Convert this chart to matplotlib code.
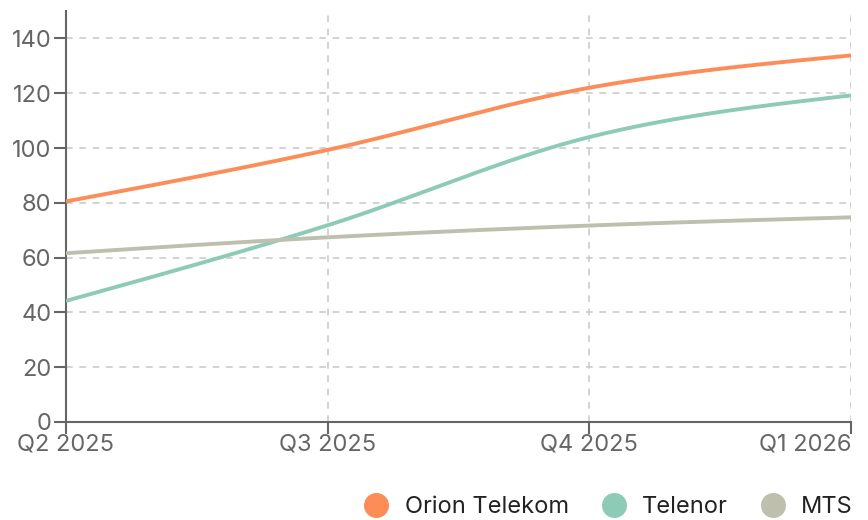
import numpy as np
import matplotlib
matplotlib.use("Agg")
import matplotlib.pyplot as plt
from matplotlib.lines import Line2D

plt.rcParams['font.family'] = ['Inter', 'DejaVu Sans']

quarters = ["Q2 2025", "Q3 2025", "Q4 2025", "Q1 2026"]
series_names = ["Orion Telekom", "Telenor", "MTS"]
orion = [80.5, 99.3, 122.0, 133.8]
telenor = [44.2, 71.8, 104.0, 119.2]
mts = [61.6, 67.4, 71.7, 74.7]
colors = ["#fc8d59", "#8dcbb7", "#bfbfae"]
y_ticks = [0, 20, 40, 60, 80, 100, 120, 140]


def monotone_curve(xs, ys, n=60):
    xs = np.asarray(xs, float)
    ys = np.asarray(ys, float)
    m = len(xs)
    h = np.diff(xs)
    s = np.diff(ys) / h
    t = np.zeros(m)
    for i in range(1, m - 1):
        h0, h1 = h[i - 1], h[i]
        s0, s1 = s[i - 1], s[i]
        p = (s0 * h1 + s1 * h0) / (h0 + h1)
        t[i] = (np.sign(s0) + np.sign(s1)) * min(abs(s0), abs(s1), 0.5 * abs(p))
    t[0] = (3 * s[0] - t[1]) / 2 if m > 2 else s[0]
    t[-1] = (3 * s[-1] - t[-2]) / 2 if m > 2 else s[-1]
    outx, outy = [], []
    for i in range(m - 1):
        dx = h[i] / 3
        P0 = np.array([xs[i], ys[i]])
        P1 = np.array([xs[i] + dx, ys[i] + dx * t[i]])
        P2 = np.array([xs[i + 1] - dx, ys[i + 1] - dx * t[i + 1]])
        P3 = np.array([xs[i + 1], ys[i + 1]])
        u = np.linspace(0, 1, n)[:, None]
        B = (1 - u) ** 3 * P0 + 3 * (1 - u) ** 2 * u * P1 + 3 * (1 - u) * u ** 2 * P2 + u ** 3 * P3
        outx.extend(B[:, 0]); outy.extend(B[:, 1])
    return np.array(outx), np.array(outy)


fig = plt.figure(figsize=(8.68, 5.2), dpi=100)
ax = fig.add_axes([0.076, 0.1885, 0.9045, 0.7903])

x = np.arange(len(quarters))
for vals, c, name in zip([orion, telenor, mts], colors, series_names):
    cx, cy = monotone_curve(x, vals)
    ax.plot(cx, cy, color=c, lw=2.8, solid_capstyle='butt', label=name, zorder=3)

ax.set_xlim(0, len(quarters) - 1)
ax.set_ylim(0, 150)
ax.set_xticks(x)
ax.set_xticklabels(quarters)
ax.set_yticks(y_ticks)

ax.grid(True, color="#cccccc", linestyle=(0, (4, 4)), lw=1.2)
ax.set_axisbelow(True)
for sp in ["top", "right"]:
    ax.spines[sp].set_visible(False)
for sp in ["left", "bottom"]:
    ax.spines[sp].set_color("#666666")
    ax.spines[sp].set_linewidth(1.5)
ax.tick_params(axis='both', colors="#666666", labelcolor="#666666", labelsize=17,
               length=8.5, width=1.5)
ax.tick_params(axis='x', pad=0)
ax.tick_params(axis='y', pad=2)
labels = ax.get_xticklabels()
labels[-1].set_ha('right')

handles = [Line2D([], [], marker='o', linestyle='none', markersize=17,
                  markerfacecolor=c, markeredgecolor=c) for c in colors]
leg = fig.legend(handles, series_names, loc='lower right', bbox_to_anchor=(1.007, -0.037),
                 ncol=3, frameon=False, fontsize=17, handletextpad=0.6,
                 columnspacing=1.3, handlelength=1.2)
for t in leg.get_texts():
    t.set_color("#222222")

fig.savefig("out.png", dpi=100)
